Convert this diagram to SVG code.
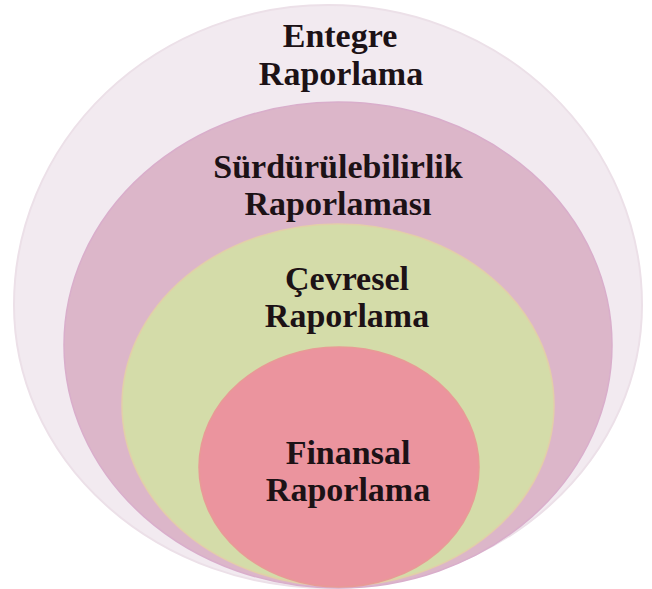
<svg xmlns="http://www.w3.org/2000/svg" width="652" height="589" viewBox="0 0 652 589">
  <style>
    .lbl { font-family: "Liberation Serif", "DejaVu Serif", serif; font-weight: bold; font-size: 34px; fill: #1c1216; text-anchor: middle; }
  </style>
  <rect x="0" y="0" width="652" height="589" fill="#ffffff"/>
  <g id="entegre">
    <path d="M 14 305 A 314 300 0 0 1 642 305 A 314 283 0 0 1 14 305 Z" fill="#f2eaf0" stroke="#ece0e8" stroke-width="2"/>
    <text class="lbl" x="340" y="47">Entegre</text>
    <text class="lbl" x="341" y="85">Raporlama</text>
  </g>
  <g id="surdurulebilirlik">
    <ellipse cx="338" cy="345" rx="274" ry="243" fill="#dcb6c9" stroke="#d9aecb" stroke-width="1.5"/>
    <text class="lbl" x="338" y="178">Sürdürülebilirlik</text>
    <text class="lbl" x="338" y="215">Raporlaması</text>
  </g>
  <g id="cevresel">
    <ellipse cx="338" cy="405" rx="216" ry="181" fill="#d4dca9" stroke="#e2cfa8" stroke-width="1.5"/>
    <text class="lbl" x="347" y="290">Çevresel</text>
    <text class="lbl" x="347" y="327">Raporlama</text>
  </g>
  <g id="finansal">
    <ellipse cx="339" cy="467" rx="140" ry="120" fill="#eb949e" stroke="#e89a96" stroke-width="1.5"/>
    <text class="lbl" x="348" y="464">Finansal</text>
    <text class="lbl" x="348" y="501">Raporlama</text>
  </g>
  <g id="connectors"></g>
</svg>
